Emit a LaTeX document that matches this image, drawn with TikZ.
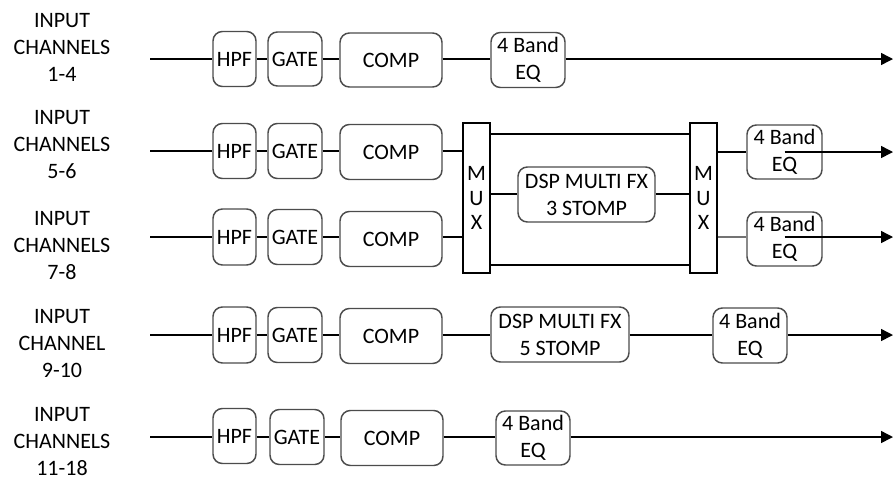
\documentclass[tikz,border=0pt]{standalone}
\usepackage{fontspec}
\setmainfont{Carlito}
\usetikzlibrary{arrows.meta}
\begin{document}
\begin{tikzpicture}[x=0.75pt,y=-0.75pt,
  every node/.style={font=\fontsize{16.5}{20.25}\selectfont, inner sep=0pt},
  blk/.style={draw=black!70, line width=1.1pt, rounded corners=7pt, fill=white, align=center},
  mux/.style={draw=black, line width=1.1pt, fill=white, align=center, minimum width=27*0.75pt, minimum height=150*0.75pt, font=\fontsize{16.5}{18.5}\selectfont},
  lbl/.style={align=center},
  wire/.style={line width=1.1pt},
  arr/.style={wire, -{Triangle[length=9pt,width=9pt]}}]
\useasboundingbox (0,0) rectangle (895,480);

% labels
\node[lbl] (l1) at (62,47) {INPUT\\CHANNELS\\1-4};
\node[lbl] (l2) at (62,145) {INPUT\\CHANNELS\\5-6};
\node[lbl] (l3) at (62,246) {INPUT\\CHANNELS\\7-8};
\node[lbl] (l4) at (62,344) {INPUT\\CHANNEL\\9-10};
\node[lbl] (l5) at (62,442) {INPUT\\CHANNELS\\11-18};

% start / end coordinates
\coordinate (s1) at (150,59);
\coordinate (s2) at (150,151);
\coordinate (s3) at (150,237);
\coordinate (s4) at (150,335);
\coordinate (s5) at (150,437);
\coordinate (e1) at (893,59);
\coordinate (e2) at (893,152);
\coordinate (e3) at (893,238);
\coordinate (e4) at (893,335);
\coordinate (e5) at (893,437);

% row 1
\node[blk, minimum width=43*0.75pt, minimum height=55*0.75pt] (hpf1) at (234.5,59) {HPF};
\node[blk, minimum width=54*0.75pt, minimum height=54*0.75pt] (gate1) at (295,59) {GATE};
\node[blk, minimum width=102*0.75pt, minimum height=54*0.75pt] (comp1) at (391,60) {COMP};
\node[blk, minimum width=74*0.75pt, minimum height=55*0.75pt] (eq1) at (528,60) {4 Band\\EQ};

% row 2
\node[blk, minimum width=43*0.75pt, minimum height=55*0.75pt] (hpf2) at (234.5,151) {HPF};
\node[blk, minimum width=54*0.75pt, minimum height=55*0.75pt] (gate2) at (295,151) {GATE};
\node[blk, minimum width=102*0.75pt, minimum height=55*0.75pt] (comp2) at (391,152) {COMP};

% row 3
\node[blk, minimum width=43*0.75pt, minimum height=56*0.75pt] (hpf3) at (234.5,237) {HPF};
\node[blk, minimum width=54*0.75pt, minimum height=55*0.75pt] (gate3) at (295,237) {GATE};
\node[blk, minimum width=102*0.75pt, minimum height=55*0.75pt] (comp3) at (391,239) {COMP};

% mux section
\node[mux] (muxl) at (476.5,198) {M\\U\\X};
\node[mux] (muxr) at (703.5,198) {M\\U\\X};
\node[blk, minimum width=137*0.75pt, minimum height=55*0.75pt] (dsp3) at (586.5,194.5) {DSP MULTI FX\\3 STOMP};
\node[blk, minimum width=75*0.75pt, minimum height=54*0.75pt] (eq2) at (784.5,152) {4 Band\\EQ};
\node[blk, minimum width=75*0.75pt, minimum height=54*0.75pt] (eq3) at (784.5,239) {4 Band\\EQ};

% row 4
\node[blk, minimum width=43*0.75pt, minimum height=56*0.75pt] (hpf4) at (234.5,335) {HPF};
\node[blk, minimum width=54*0.75pt, minimum height=55*0.75pt] (gate4) at (295,335) {GATE};
\node[blk, minimum width=102*0.75pt, minimum height=55*0.75pt] (comp4) at (391,336) {COMP};
\node[blk, minimum width=138*0.75pt, minimum height=55*0.75pt] (dsp5) at (560,334.5) {DSP MULTI FX\\5 STOMP};
\node[blk, minimum width=74*0.75pt, minimum height=55*0.75pt] (eq4) at (750,335.5) {4 Band\\EQ};

% row 5
\node[blk, minimum width=43*0.75pt, minimum height=55*0.75pt] (hpf5) at (234.5,436) {HPF};
\node[blk, minimum width=54*0.75pt, minimum height=55*0.75pt] (gate5) at (297,437) {GATE};
\node[blk, minimum width=102*0.75pt, minimum height=55*0.75pt] (comp5) at (392,438) {COMP};
\node[blk, minimum width=74*0.75pt, minimum height=54*0.75pt] (eq5) at (533,438) {4 Band\\EQ};

% wires row 1
\draw[wire] (s1) -- (hpf1.west |- s1);
\draw[wire] (hpf1.east |- s1) -- (gate1.west |- s1);
\draw[wire] (gate1.east |- s1) -- (comp1.west |- s1);
\draw[wire] (comp1.east |- s1) -- (eq1.west |- s1);
\draw[arr] (eq1.east |- e1) -- (e1);

% wires row 2
\draw[wire] (s2) -- (hpf2.west |- s2);
\draw[wire] (hpf2.east |- s2) -- (gate2.west |- s2);
\draw[wire] (gate2.east |- s2) -- (comp2.west |- s2);
\draw[wire] (comp2.east |- s2) -- (muxl.west |- s2);

% wires row 3
\draw[wire] (s3) -- (hpf3.west |- s3);
\draw[wire] (hpf3.east |- s3) -- (gate3.west |- s3);
\draw[wire] (gate3.east |- s3) -- (comp3.west |- s3);
\draw[wire] (comp3.east |- s3) -- (muxl.west |- s3);

% mux internals
\coordinate (mt) at (0,134);
\coordinate (mb) at (0,265);
\coordinate (mm) at (0,194);
\draw[wire] (muxl.east |- mt) -- (muxr.west |- mt);
\draw[wire] (muxl.east |- mb) -- (muxr.west |- mb);
\draw[wire] (muxl.east |- mm) -- (dsp3.west |- mm);
\draw[wire] (dsp3.east |- mm) -- (muxr.west |- mm);
\draw[wire] (muxr.east |- e2) -- (eq2.west |- e2);
\draw[wire, black!55] (muxr.east |- s3) -- (eq3.west |- s3);
\draw[arr] (eq2.center |- e2) -- (e2);
\draw[arr] (eq3.center |- s3) -- (e3 |- s3);

% wires row 4
\draw[wire] (s4) -- (hpf4.west |- s4);
\draw[wire] (hpf4.east |- s4) -- (gate4.west |- s4);
\draw[wire] (gate4.east |- s4) -- (comp4.west |- s4);
\draw[wire] (comp4.east |- s4) -- (dsp5.west |- s4);
\draw[wire] (dsp5.east |- s4) -- (eq4.west |- s4);
\draw[arr] (eq4.east |- e4) -- (e4);

% wires row 5
\draw[wire] (s5) -- (hpf5.west |- s5);
\draw[wire] (hpf5.east |- s5) -- (gate5.west |- s5);
\draw[wire] (gate5.east |- s5) -- (comp5.west |- s5);
\draw[wire] (comp5.east |- s5) -- (eq5.west |- s5);
\draw[arr] (eq5.east |- e5) -- (e5);
\end{tikzpicture}
\end{document}
